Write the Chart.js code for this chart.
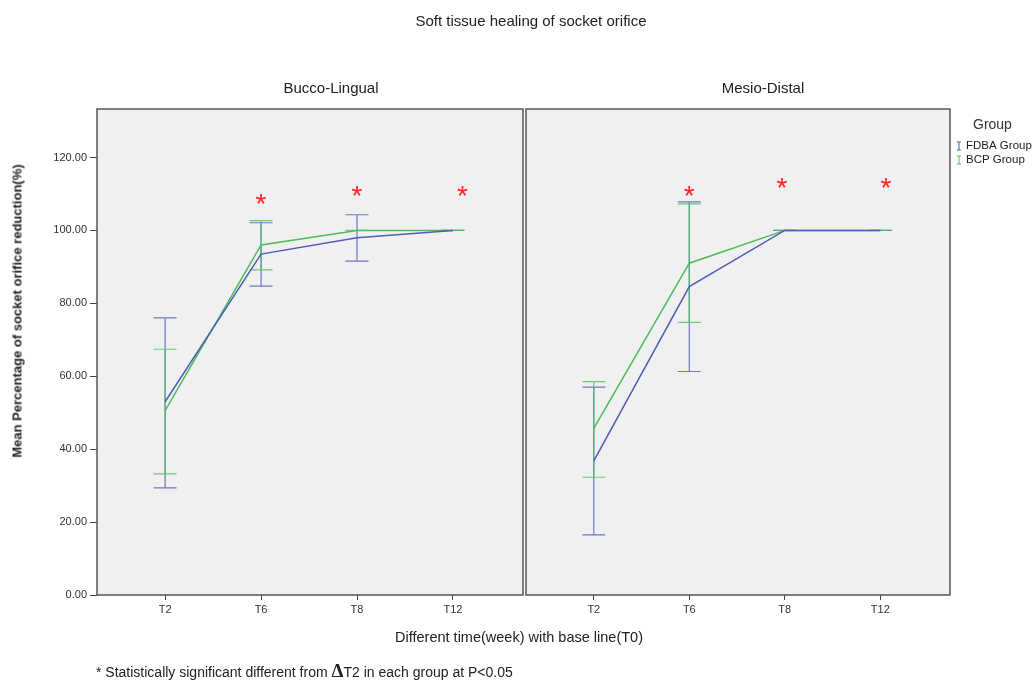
<!DOCTYPE html>
<html>
<head>
<meta charset="utf-8">
<script src="https://cdn.jsdelivr.net/npm/chart.js@4.4.1/dist/chart.umd.min.js"></script>
<style>
  body { margin: 0; background: #fff; font-family: "Liberation Sans", Arial, sans-serif; color: #222; }
  #wrap { position: relative; width: 1035px; height: 680px; overflow: hidden; }
  canvas { position: absolute; top: 0; }
  .txt { position: absolute; white-space: nowrap; transform: translate(-50%, -50%); }
</style>
</head>
<body>
<div id="wrap">
  <canvas id="left" width="524" height="680" style="left:0"></canvas>
  <canvas id="right" width="511" height="680" style="left:524px"></canvas>
  <div class="txt" style="left:531px;top:20px;font-size:15px">Soft tissue healing of socket orifice</div>
  <div class="txt" style="left:331px;top:87px;font-size:15px">Bucco-Lingual</div>
  <div class="txt" style="left:763px;top:87px;font-size:15px">Mesio-Distal</div>
  <div class="txt" style="left:17px;top:311px;font-size:13px;font-weight:bold;transform:translate(-50%,-50%) rotate(-90deg)">Mean Percentage of socket orifice reduction(%)</div>
  <div class="txt" style="left:519px;top:637px;font-size:14.5px">Different time(week) with base line(T0)</div>
  <div class="txt" style="left:96px;top:671px;font-size:14px;transform:translate(0,-50%)">* Statistically significant different from <span style="font-family:'Liberation Serif',serif;font-size:19px;font-weight:bold">&Delta;</span>T2 in each group at P&lt;0.05</div>
</div>
<script>
// time points and y ticks
const categories = ["T2", "T6", "T8", "T12"];
const yTicks = [0, 20, 40, 60, 80, 100, 120];
const groups = ["FDBA Group", "BCP Group"];
const colors = ["#4d5db4", "#4cbb5c"];

// Bucco-Lingual: mean, lower / upper error bar
const blFdbaMean = [53.0, 93.5, 98.0, 100];
const blFdbaLow = [29.4, 84.7, 91.6, 100];
const blFdbaHigh = [76.0, 102.1, 104.3, 100];
const blBcpMean = [50.6, 96.0, 100, 100];
const blBcpLow = [33.2, 89.2, 100, 100];
const blBcpHigh = [67.4, 102.7, 100, 100];

// Mesio-Distal
const mdFdbaMean = [36.8, 84.6, 100, 100];
const mdFdbaLow = [16.5, 61.3, 100, 100];
const mdFdbaHigh = [57.0, 107.8, 100, 100];
const mdBcpMean = [45.7, 91.0, 100, 100];
const mdBcpLow = [32.3, 74.8, 100, 100];
const mdBcpHigh = [58.5, 107.3, 100, 100];

// significance stars (x in time point index, y in %)
const blStarX = [1, 2, 3.1];
const blStarY = [108.9, 111.1, 111.1];
const mdStarX = [1, 1.97, 3.06];
const mdStarY = [111.1, 113.3, 113.3];

function makeSet(label, color, mean, low, high) {
  return {
    label: label,
    data: mean.map((v, i) => ({ x: i, y: v })),
    errLow: low,
    errHigh: high,
    borderColor: color,
    borderWidth: 1.5,
    pointRadius: 0,
    tension: 0,
    fill: false,
  };
}

// background, error bars, frame, stars
const decor = {
  id: "decor",
  beforeDraw(chart) {
    const a = chart.chartArea;
    const ctx = chart.ctx;
    ctx.save();
    ctx.fillStyle = "#f0f0f0";
    ctx.fillRect(a.left, a.top, a.right - a.left, a.bottom - a.top);
    ctx.restore();
  },
  beforeDatasetsDraw(chart) {
    const ctx = chart.ctx;
    const xs = chart.scales.x, ys = chart.scales.y;
    ctx.save();
    chart.data.datasets.forEach((ds) => {
      ctx.strokeStyle = ds.borderColor;
      ctx.globalAlpha = 0.8;
      ctx.lineWidth = 1.2;
      ds.data.forEach((p, i) => {
        const x = xs.getPixelForValue(p.x);
        const y1 = ys.getPixelForValue(ds.errLow[i]);
        const y2 = ys.getPixelForValue(ds.errHigh[i]);
        ctx.beginPath();
        ctx.moveTo(x, y1); ctx.lineTo(x, y2);
        ctx.moveTo(x - 11.5, y1); ctx.lineTo(x + 11.5, y1);
        ctx.moveTo(x - 11.5, y2); ctx.lineTo(x + 11.5, y2);
        ctx.stroke();
      });
    });
    ctx.restore();
  },
  afterDraw(chart) {
    const ctx = chart.ctx;
    const a = chart.chartArea;
    const xs = chart.scales.x, ys = chart.scales.y;
    const o = chart.options.plugins.decor;
    ctx.save();
    ctx.strokeStyle = "#555";
    ctx.lineWidth = 1.5;
    ctx.strokeRect(a.left, a.top, a.right - a.left, a.bottom - a.top);
    ctx.fillStyle = "#ff2020";
    ctx.font = "28px 'Liberation Sans', Arial";
    ctx.textAlign = "center";
    ctx.textBaseline = "alphabetic";
    o.starX.forEach((sx, i) => {
      ctx.fillText("*", xs.getPixelForValue(sx), ys.getPixelForValue(o.starY[i]) + 15);
    });
    if (o.legend) {
      ctx.fillStyle = "#333";
      ctx.textAlign = "left";
      ctx.textBaseline = "middle";
      ctx.font = "14px 'Liberation Sans', Arial";
      ctx.fillText("Group", a.right + 23, 125);
      ctx.font = "11.5px 'Liberation Sans', Arial";
      chart.data.datasets.forEach((ds, i) => {
        const y = 146 + i * 14;
        const mx = a.right + 9;
        ctx.strokeStyle = ds.borderColor;
        ctx.lineWidth = 1;
        ctx.beginPath();
        ctx.moveTo(mx, y - 4); ctx.lineTo(mx, y + 4);
        ctx.moveTo(mx - 2, y - 4); ctx.lineTo(mx + 2, y - 4);
        ctx.moveTo(mx - 2, y + 4); ctx.lineTo(mx + 2, y + 4);
        ctx.stroke();
        ctx.fillStyle = "#222";
        ctx.fillText(ds.label, a.right + 16, y);
      });
    }
    ctx.restore();
  },
};

function makeOptions(showY, pad, starX, starY, legend) {
  return {
    responsive: false,
    animation: false,
    layout: { padding: pad },
    plugins: {
      legend: { display: false },
      tooltip: { enabled: false },
      decor: { starX: starX, starY: starY, legend: legend },
    },
    scales: {
      x: {
        type: "linear",
        min: -0.71,
        max: 3.73,
        afterBuildTicks: (s) => { s.ticks = categories.map((c, i) => ({ value: i })); },
        afterFit: (s) => { s.height = 30; },
        ticks: {
          callback: (v) => categories[v],
          color: "#333",
          font: { family: "'Liberation Sans', Arial", size: 11 },
          padding: 3,
          maxRotation: 0,
        },
        grid: { drawOnChartArea: false, tickLength: 5, color: "#444" },
        border: { display: false },
      },
      y: {
        min: 0,
        max: 133.3,
        afterBuildTicks: (s) => { s.ticks = yTicks.map((v) => ({ value: v })); },
        afterFit: (s) => { s.width = showY ? 97 : 0; },
        ticks: {
          display: showY,
          callback: (v) => v.toFixed(2),
          color: "#333",
          font: { family: "'Liberation Sans', Arial", size: 11 },
          padding: 3,
        },
        grid: { display: showY, drawOnChartArea: false, tickLength: 7, color: "#444" },
        border: { display: false },
      },
    },
  };
}

new Chart(document.getElementById("left"), {
  type: "line",
  data: {
    datasets: [
      makeSet(groups[0], colors[0], blFdbaMean, blFdbaLow, blFdbaHigh),
      makeSet(groups[1], colors[1], blBcpMean, blBcpLow, blBcpHigh),
    ],
  },
  options: makeOptions(true, { left: 0, right: 1, top: 109, bottom: 55 }, blStarX, blStarY, false),
  plugins: [decor],
});

new Chart(document.getElementById("right"), {
  type: "line",
  data: {
    datasets: [
      makeSet(groups[0], colors[0], mdFdbaMean, mdFdbaLow, mdFdbaHigh),
      makeSet(groups[1], colors[1], mdBcpMean, mdBcpLow, mdBcpHigh),
    ],
  },
  options: makeOptions(false, { left: 2, right: 85, top: 109, bottom: 55 }, mdStarX, mdStarY, true),
  plugins: [decor],
});
</script>
</body>
</html>
